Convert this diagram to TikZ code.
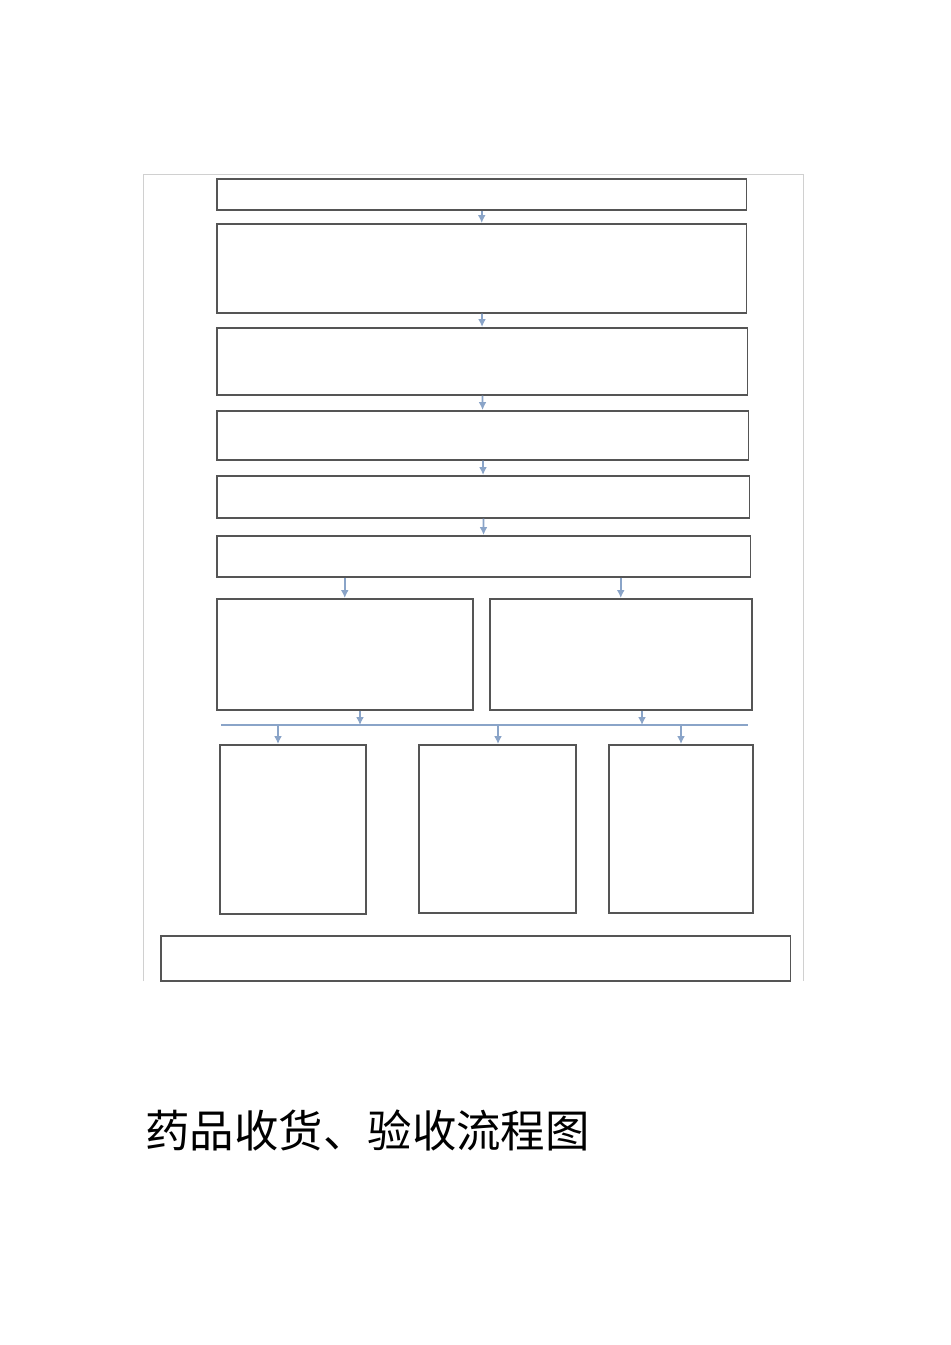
\documentclass[tikz,border=0pt]{standalone}
\usepackage{fontspec}
\newfontfamily\cjk{Noto Sans CJK SC}
\usetikzlibrary{arrows.meta}

\definecolor{boxgray}{HTML}{555555}
\definecolor{framegray}{HTML}{D0D0D0}
\definecolor{arrblue}{HTML}{8AA4C8}

\tikzset{
  box/.style={draw=boxgray, line width=0.9pt, inner sep=0pt},
  arr/.style={draw=arrblue, line width=1pt, -{Latex[length=4.5pt,width=4.5pt]}},
}

\begin{document}
\begin{tikzpicture}[x=0.02cm, y=-0.02cm]

\useasboundingbox (0,0) rectangle (950,1345);

% Outer frame
\draw[framegray, line width=0.5pt] (143,981) -- (143,174) -- (803,174) -- (803,981);

% Main column of boxes
\node[box, minimum width=10.6cm, minimum height=0.62cm, anchor=north west] (s1) at (216,178) {};
\node[box, minimum width=10.6cm, minimum height=1.78cm, anchor=north west] (s2) at (216,223) {};
\node[box, minimum width=10.62cm, minimum height=1.34cm, anchor=north west] (s3) at (216,327) {};
\node[box, minimum width=10.64cm, minimum height=0.98cm, anchor=north west] (s4) at (216,410) {};
\node[box, minimum width=10.66cm, minimum height=0.84cm, anchor=north west] (s5) at (216,475) {};
\node[box, minimum width=10.68cm, minimum height=0.82cm, anchor=north west] (s6) at (216,535) {};

% Two branches
\node[box, minimum width=5.12cm, minimum height=2.22cm, anchor=north west] (left) at (216,598) {};
\node[box, minimum width=5.24cm, minimum height=2.22cm, anchor=north west] (right) at (489,598) {};

% Three results
\node[box, minimum width=2.92cm, minimum height=3.38cm, anchor=north west] (r1) at (219,744) {};
\node[box, minimum width=3.14cm, minimum height=3.36cm, anchor=north west] (r2) at (418,744) {};
\node[box, minimum width=2.88cm, minimum height=3.36cm, anchor=north west] (r3) at (608,744) {};

% Bottom box
\node[box, minimum width=12.6cm, minimum height=0.9cm, anchor=north west] (last) at (160,935) {};

% Bar
\coordinate (barA) at (221,725);
\coordinate (barB) at (748,725);
\draw[arrblue, line width=1.2pt] (barA) -- (barB);
\coordinate (inL) at (360,725);
\coordinate (inR) at (642,725);
\coordinate (out1) at (278,725);
\coordinate (out2) at (498,725);
\coordinate (out3) at (681,725);

% Arrows
\draw[arr] (s1) -- (s2);
\draw[arr] (s2) -- (s3);
\draw[arr] (s3) -- (s4);
\draw[arr] (s4) -- (s5);
\draw[arr] (s5) -- (s6);
\draw[arr] (s6.south -| left) -- (left);
\draw[arr] (s6.south -| right) -- (right);
\draw[arr] (left.south -| inL) -- (inL);
\draw[arr] (right.south -| inR) -- (inR);
\draw[arr] (out1) -- (out1 |- r1.north);
\draw[arr] (out2) -- (out2 |- r2.north);
\draw[arr] (out3) -- (out3 |- r3.north);

% Title
\node[anchor=west, inner sep=0pt, font=\cjk\fontsize{25.3pt}{30pt}\selectfont] (title) at (145,1130) {药品收货、验收流程图};

\end{tikzpicture}
\end{document}
